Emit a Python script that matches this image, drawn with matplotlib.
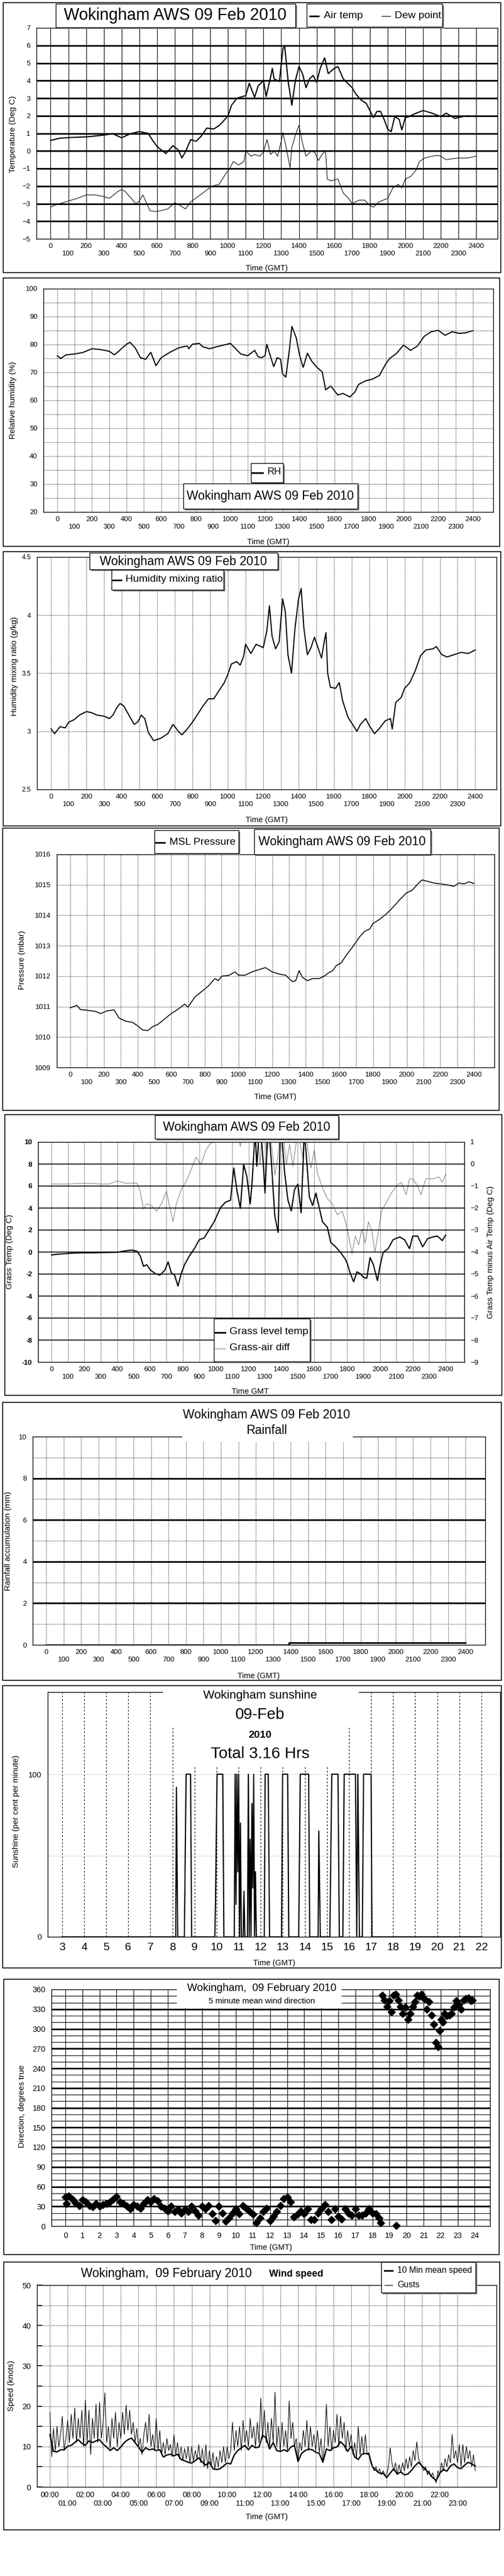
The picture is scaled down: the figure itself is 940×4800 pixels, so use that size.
import numpy as np
import matplotlib
matplotlib.use('Agg')
import matplotlib.pyplot as plt
from matplotlib.patches import Rectangle
from matplotlib.lines import Line2D

plt.rcParams['font.family'] = ['Liberation Sans', 'DejaVu Sans']

# ---- data (time, value) ----
air_temp = [(0,0.6),(50,0.72),(100,0.76),(150,0.78),(200,0.8),(250,0.85),(300,0.9),(350,0.98),(400,0.75),(450,0.98),
            (500,1.1),(550,1.0),(575,0.6),(600,0.25),(650,-0.15),(690,0.3),(720,0.05),(740,-0.4),(760,-0.05),(790,0.65),
            (820,0.55),(850,0.85),(880,1.3),(920,1.25),(950,1.45),(970,1.65),(1000,2.0),(1020,2.6),(1050,3.0),(1100,3.15),
            (1120,3.85),(1150,3.05),(1170,3.7),(1200,4.0),(1215,3.1),(1240,4.2),(1250,4.7),(1260,4.1),(1290,3.95),(1310,5.85),
            (1320,5.9),(1340,3.9),(1360,2.6),(1380,4.0),(1400,4.8),(1420,4.4),(1440,3.6),(1460,4.1),(1480,4.3),(1500,3.9),
            (1520,4.7),(1545,5.3),(1565,4.4),(1600,4.7),(1620,4.8),(1650,4.1),(1700,3.6),(1720,3.25),(1750,2.9),(1780,2.7),
            (1800,2.3),(1820,1.9),(1840,2.25),(1860,2.25),(1880,1.8),(1900,1.25),(1920,1.1),(1940,1.95),(1965,1.8),(1980,1.2),
            (2000,1.9),(2020,1.95),(2050,2.1),(2100,2.3),(2150,2.15),(2200,1.95),(2230,2.15),(2280,1.85),(2320,1.95),(2350,2.0),
            (2400,1.95)]
dew_point = [(0,-3.2),(20,-3.1),(50,-3.0),(100,-2.85),(150,-2.7),(200,-2.5),(250,-2.5),(300,-2.6),(330,-2.7),(350,-2.55),
             (380,-2.3),(400,-2.2),(420,-2.3),(450,-2.65),(480,-3.0),(500,-2.85),(520,-2.5),(540,-2.95),(560,-3.4),(590,-3.45),
             (620,-3.4),(660,-3.3),(700,-2.95),(730,-3.1),(760,-3.3),(790,-2.9),(830,-2.6),(870,-2.3),(910,-2.0),(950,-1.9),
             (990,-1.25),(1010,-1.0),(1030,-0.6),(1060,-0.8),(1090,-0.6),(1100,0.0),(1130,-0.3),(1150,-0.2),(1180,-0.3),(1200,-0.05),
             (1220,0.65),(1240,-0.2),(1260,0.0),(1280,-0.3),(1300,0.55),(1310,1.05),(1325,0.35),(1350,-0.95),(1360,0.2),(1380,0.9),
             (1400,1.45),(1420,0.45),(1440,-0.3),(1470,0.0),(1490,-0.1),(1510,-0.55),(1530,-0.2),(1550,0.0),(1560,-1.6),(1580,-1.7),
             (1620,-1.6),(1650,-2.4),(1680,-2.7),(1700,-3.0),(1740,-2.8),(1770,-2.8),(1800,-3.1),(1820,-3.2),(1850,-2.9),(1900,-2.7),
             (1930,-2.1),(1960,-1.9),(1980,-2.1),(2000,-1.6),(2030,-1.45),(2060,-1.1),(2080,-0.6),(2110,-0.4),(2150,-0.3),(2180,-0.25),
             (2200,-0.3),(2230,-0.5),(2260,-0.45),(2300,-0.4),(2350,-0.4),(2400,-0.3)]
rel_hum = [(0,76),(20,75),(50,76.3),(100,76.6),(150,77.2),(200,78.5),(250,78.2),(300,77.6),(330,76.3),(360,77.9),
           (400,80.1),(420,80.8),(450,78.8),(480,75.3),(510,74.7),(540,77.2),(570,72.4),(600,75.3),(650,77.2),(700,78.8),
           (750,79.5),(760,78.5),(780,80.1),(820,80.4),(840,79.2),(880,78.5),(920,79.2),(960,79.8),(1000,80.4),(1030,78.5),
           (1060,76.6),(1100,76.0),(1140,77.9),(1160,75.6),(1180,75.3),(1200,76.0),(1210,80.1),(1230,76.0),(1250,72.1),(1270,75.3),
           (1290,74.7),(1300,69.6),(1320,68.3),(1340,77.9),(1355,86.5),(1380,82.4),(1400,76.0),(1420,71.8),(1445,76.9),(1470,74.0),
           (1500,71.8),(1530,70.2),(1550,63.8),(1580,65.1),(1620,61.9),(1650,62.5),(1690,61.2),(1720,63.1),(1740,65.7),(1780,67.0),
           (1820,67.6),(1860,68.9),(1900,73.4),(1920,75.0),(1960,76.9),(2000,79.8),(2040,77.9),(2080,79.5),(2120,83.0),(2160,84.6),
           (2200,85.1),(2240,83.3),(2280,84.6),(2320,84.0),(2360,84.2),(2400,85.0)]
mix_ratio = [(0,3.02),(20,2.98),(50,3.04),(80,3.03),(100,3.08),(130,3.1),(160,3.14),(200,3.17),(230,3.16),(260,3.14),
             (300,3.13),(330,3.11),(350,3.14),(370,3.2),(390,3.24),(410,3.22),(440,3.14),(470,3.06),(490,3.08),(510,3.14),
             (530,3.11),(550,2.99),(580,2.92),(620,2.94),(660,2.98),(690,3.06),(720,3.0),(740,2.97),(770,3.02),(800,3.08),
             (830,3.15),(860,3.22),(890,3.28),(920,3.28),(950,3.35),(980,3.42),(1000,3.49),(1020,3.58),(1050,3.6),(1070,3.57),
             (1090,3.65),(1100,3.75),(1130,3.67),(1160,3.75),(1200,3.72),(1220,3.86),(1235,4.08),(1250,3.82),(1270,3.71),(1290,3.77),
             (1310,4.14),(1325,4.03),(1340,3.66),(1360,3.5),(1380,3.89),(1400,4.14),(1415,4.23),(1430,3.89),(1450,3.66),(1470,3.72),
             (1490,3.81),(1510,3.72),(1530,3.63),(1545,3.77),(1555,3.85),(1565,3.5),(1580,3.38),(1610,3.37),(1630,3.42),(1650,3.26),
             (1680,3.12),(1710,3.05),(1730,3.0),(1750,3.06),(1780,3.11),(1800,3.05),(1830,2.98),(1860,3.03),(1890,3.09),(1920,3.11),
             (1930,3.02),(1950,3.25),(1980,3.29),(2000,3.37),(2030,3.42),(2060,3.52),(2090,3.65),(2120,3.7),(2160,3.71),(2180,3.73),
             (2210,3.66),(2240,3.64),(2280,3.66),(2320,3.68),(2360,3.67),(2400,3.7)]
msl_pressure = [(0,1010.96),(20,1011.0),(40,1011.04),(60,1010.9),(100,1010.88),(150,1010.84),(180,1010.77),(220,1010.86),(260,1010.89),(290,1010.62),
                (330,1010.52),(370,1010.48),(400,1010.37),(430,1010.23),(460,1010.21),(490,1010.34),(520,1010.41),(560,1010.59),(600,1010.77),(640,1010.91),
                (680,1011.08),(700,1010.98),(740,1011.31),(780,1011.49),(820,1011.67),(860,1011.92),(880,1011.85),(900,1012.0),(940,1012.02),(980,1012.14),
                (1000,1012.03),(1040,1012.03),(1080,1012.14),(1120,1012.21),(1160,1012.28),(1200,1012.14),(1240,1012.07),(1280,1012.03),(1320,1011.82),(1340,1011.85),
                (1360,1012.18),(1380,1011.96),(1410,1011.85),(1440,1011.92),(1480,1011.92),(1510,1012.0),(1530,1012.09),(1560,1012.18),(1580,1012.34),(1610,1012.43),
                (1640,1012.68),(1680,1012.97),(1720,1013.29),(1750,1013.47),(1780,1013.55),(1800,1013.73),(1840,1013.87),(1880,1014.05),(1920,1014.27),(1960,1014.52),
                (2000,1014.74),(2030,1014.81),(2060,1014.99),(2090,1015.16),(2120,1015.12),(2160,1015.06),(2200,1015.03),(2240,1015.0),(2280,1014.95),(2310,1015.06),
                (2340,1015.03),(2370,1015.1),(2400,1015.04)]
grass_temp = [(0,-0.26),(50,-0.18),(100,-0.13),(150,-0.08),(200,-0.07),(250,-0.07),(300,-0.05),(350,-0.03),(400,-0.02),(450,0.11),
              (490,0.18),(520,0.07),(540,-0.34),(560,-1.3),(580,-1.15),(600,-1.6),(630,-1.95),(660,-2.1),(690,-1.65),(710,-0.9),
              (730,-1.9),(750,-2.1),(770,-3.1),(790,-1.95),(810,-1.15),(840,-0.34),(870,0.31),(900,1.12),(930,1.29),(960,2.02),
              (990,2.75),(1010,3.4),(1030,4.06),(1060,4.54),(1090,4.71),(1110,7.64),(1130,5.52),(1150,3.97),(1170,7.96),(1190,6.82),
              (1210,4.38),(1220,6.0),(1240,11.0),(1250,7.8),(1270,12.0),(1290,7.96),(1300,5.36),(1320,12.0),(1340,7.96),(1360,3.24),
              (1380,1.78),(1395,12.0),(1420,7.15),(1440,4.71),(1460,3.73),(1480,5.68),(1500,6.17),(1520,3.57),(1540,11.0),(1555,8.13),
              (1570,5.03),(1590,4.22),(1610,5.36),(1630,4.06),(1650,2.75),(1680,2.26),(1700,0.88),(1730,0.47),(1760,-0.02),(1790,-0.67),
              (1800,-1.0),(1820,-1.97),(1840,-2.7),(1860,-1.8),(1880,-1.97),(1900,-2.3),(1920,-2.38),(1940,-0.5),(1960,-1.15),(1985,-2.6),
              (2000,-1.3),(2020,-0.02),(2050,0.31),(2080,1.12),(2120,1.37),(2150,1.12),(2180,0.31),(2200,1.45),(2230,1.45),(2260,0.47),
              (2290,1.2),(2320,1.37),(2350,1.45),(2380,1.04),(2400,1.53)]
grass_air_diff = [(0,-0.91),(100,-0.91),(200,-0.87),(300,-0.91),(350,-0.91),(400,-0.77),(450,-0.87),(500,-0.87),(520,-0.87),(540,-1.24),
                  (560,-2.05),(580,-1.8),(610,-1.9),(640,-2.14),(670,-1.8),(700,-1.24),(720,-1.97),(740,-2.62),(760,-1.8),(790,-1.16),
                  (820,-0.79),(850,-0.26),(880,0.31),(910,-0.02),(940,0.63),(970,0.96),(1000,1.0),(1030,1.2),(1060,1.5),(1100,2.5),
                  (1150,0.8),(1170,2.0),(1200,1.5),(1240,3.0),(1270,-0.02),(1290,2.5),(1310,0.4),(1330,1.5),(1360,-0.5),(1380,0.4),
                  (1400,2.0),(1430,0.0),(1450,0.9),(1470,-0.1),(1500,1.5),(1530,0.3),(1545,2.5),(1560,0.71),(1580,-0.18),(1600,0.63),
                  (1620,-0.43),(1650,-1.08),(1680,-1.57),(1710,-1.8),(1740,-2.3),(1770,-2.14),(1790,-2.62),(1810,-3.27),(1830,-4.09),(1850,-3.27),
                  (1870,-3.68),(1890,-2.95),(1910,-3.6),(1930,-2.62),(1950,-3.03),(1970,-4.0),(1990,-3.11),(2010,-2.14),(2040,-1.73),(2070,-1.32),
                  (2100,-1.0),(2130,-0.83),(2160,-1.4),(2180,-0.67),(2200,-0.67),(2230,-1.0),(2250,-1.4),(2280,-0.67),(2320,-0.67),(2360,-0.59),
                  (2380,-0.83),(2400,-0.47)]
rain_time = [0, 1390, 2400]
rain_accum = [0.0, 0.1, 0.1]
sunshine = [(3,0),(8.15,0),(8.18,92),(8.24,0),(8.54,0),(8.62,100),(8.82,100),(8.87,0),(9.92,0),(9.95,20),
            (10.02,100),(10.28,100),(10.33,0),(10.8,0),(10.84,100),(10.88,20),(10.92,100),(10.96,40),(11.0,100),(11.04,0),
            (11.08,70),(11.12,0),(11.2,0),(11.24,28),(11.28,0),(11.4,0),(11.44,100),(11.48,0),(11.52,60),(11.56,0),
            (11.6,82),(11.64,30),(11.68,100),(11.72,0),(11.76,40),(11.8,0),(12.16,0),(12.2,100),(12.34,100),(12.4,0),
            (12.94,0),(12.99,100),(13.22,100),(13.27,0),(13.72,0),(13.79,100),(14.17,100),(14.22,0),(14.6,0),(14.63,65),
            (14.7,0),(15.13,0),(15.22,100),(15.5,100),(15.56,0),(15.72,0),(15.78,100),(16.29,100),(16.35,0),(16.4,100),
            (16.47,0),(16.6,0),(16.66,100),(17.0,100),(17.04,0),(22,0)]
wind_dir = [(0.0,44),(0.05,34),(0.2,46),(0.4,41),(0.6,35),(0.8,31),(1.0,40),(1.2,37),(1.4,31),(1.6,29),
            (1.8,34),(2.0,30),(2.2,33),(2.4,34),(2.6,37),(2.8,41),(3.0,45),(3.2,37),(3.4,34),(3.6,30),
            (3.8,26),(4.0,33),(4.2,30),(4.4,27),(4.6,34),(4.8,40),(5.0,37),(5.2,42),(5.4,38),(5.6,30),
            (5.8,27),(6.0,23),(6.2,30),(6.4,22),(6.6,25),(6.8,20),(7.0,25),(7.2,22),(7.4,30),(7.6,23),
            (7.8,16),(8.0,30),(8.2,26),(8.4,31),(8.6,19),(8.8,8),(9.0,30),(9.2,20),(9.4,7),(9.6,12),
            (9.8,20),(10.0,26),(10.2,19),(10.4,31),(10.6,27),(10.8,22),(11.0,18),(11.2,5),(11.4,12),(11.6,22),
            (11.8,27),(12.0,8),(12.2,15),(12.4,22),(12.6,31),(12.8,42),(13.0,44),(13.2,37),(13.4,14),(13.6,18),
            (13.8,23),(14.0,19),(14.2,26),(14.4,10),(14.6,10),(14.8,20),(15.0,26),(15.2,33),(15.4,22),(15.6,10),
            (15.8,26),(16.0,15),(16.2,11),(16.4,26),(16.6,20),(16.8,16),(17.0,26),(17.2,16),(17.4,16),(17.6,20),
            (17.8,26),(18.0,20),(18.2,19),(18.4,12),(18.5,5),(19.4,1),
            (18.58,351),(18.71,344),(18.86,334),(19.0,343),(19.13,326),(19.24,351),(19.37,353),(19.51,344),(19.66,334),(19.79,323),
            (19.94,333),(20.08,314),(20.23,323),(20.38,334),(20.51,341),(20.61,351),(20.76,349),(20.89,353),(21.02,346),(21.18,330),
            (21.33,341),(21.46,321),(21.59,307),(21.74,279),(21.84,273),(21.93,297),(22.03,314),(22.12,310),(22.22,323),(22.35,320),
            (22.5,321),(22.65,323),(22.79,333),(22.92,343),(23.07,337),(23.2,330),(23.36,344),(23.49,346),(23.64,347),(23.77,343),
            (23.87,344)]
# wind speed sampled every 0.2 h (mean) and 0.1 h (gusts) from 00:00
mean_step, gust_step = 0.2, 0.1
mean_speed = [13,8.8,8.7,9.2,9.2,10.1,10.3,11,11.7,10.8,10.3,11.4,11,11.4,11.7,10.6,9.9,9,9.7,9,
              9.9,11,11.7,12.1,11,9.9,8.6,9.7,9.2,9.4,9,9.2,7.4,7.9,8.1,7.7,8.1,6.8,6.5,6.1,
              5.9,6.5,7.2,6.1,5.4,6.1,4.5,4.3,4.5,5.2,5.9,5.7,7.9,9,9.7,10.3,9.2,10.3,9.7,9.9,
              12.8,12.1,9.4,11,9,8.8,9.2,8.8,9.9,10.3,6.3,8.3,9,9.4,9.2,8.6,8.3,6.1,9.4,9,
              9.7,9.9,11.2,10.3,8.8,10.1,7.4,6.8,8.1,8.3,8.1,5,4.1,3.4,3.4,2.3,3.4,4.5,3.2,3.7,
              3.0,3.2,4.1,5.2,6.1,5.2,4.3,3.4,2.3,1.6,3.4,4.3,3.9,5.2,5.7,4.8,4.5,5.4,6.1,5.7,
              5.2]
gusts = [18.5,7.5,14.5,9,15,10,13,17.5,9,12, 16.5,11,18,12,19.5,11,17,12,19,10,
         21.5,11,19,8,17,12,20.5,11,21,12, 16,23.3,11,15,9.5,17,12,18.5,10,16,
         12,18.5,13,20.3,14,19,13,16,11,14.5, 10,12,8,13,16,11,18,10,13,9,
         17,9,14,8,11,8,12,9,10.5,7.5, 13,8,11,7,10,6.5,9.5,7,10,6,
         10,6.5,9,7,10.5,6,9.5,5,10.5,4.5, 9,5,8.5,4.5,7.5,5,9,6,10,6,
         10,7,9,16,9,14,10,15,9,16.5, 11,14,10,17,12,15,10,16,11,22,
         12,19,11,16,10,17,11,23.5,10,15, 9,16,10,14,9,21.3,12,16,10,12,
         6.5,11,9,14,10,16.5,9,15,10,13, 9,14,8.5,12,6,11,20.5,10,15,9,
         14,11,18,10,17.5,12,16,9,14,10, 13,8,11,7,15,8,12.5,8,13,8,
         8.5,6,5,4,5,3.5,4.5,3,4,3, 3,5,9.7,6,4,6,3,5.5,3.5,6,
         4,7,4.5,7.5,5,9,6.5,11.2,7,6, 5,4,5,3,4,2.5,3.5,2,1,4,
         3,6,4,7,5,8,6,13,7,9, 6,10.5,5,10.5,6,10,7,9,5,8,
         4]

TITLE = 'Wokingham AWS 09 Feb 2010'

W, H = 940, 4800
fig = plt.figure(figsize=(W / 100, H / 100), dpi=100)


def split(pairs):
    a = np.array(pairs, dtype=float)
    return a[:, 0], a[:, 1]


def fx(x):
    return x / W


def fy(y):
    return 1 - y / H


def add_ax(x0, y0, x1, y1):
    ax = fig.add_axes([fx(x0), fy(y1), (x1 - x0) / W, (y1 - y0) / H])
    for s in ax.spines.values():
        s.set_linewidth(1.0)
    ax.tick_params(which='both', length=0, labelsize=9.5, pad=8)
    return ax


def frame(x0, y0, x1, y1):
    fig.add_artist(Rectangle((fx(x0), fy(y1)), (x1 - x0) / W, (y1 - y0) / H,
                             transform=fig.transFigure, fill=False, ec='black', lw=1.2, zorder=1))


def box(x0, y0, x1, y1):
    fig.add_artist(Rectangle((fx(x0 + 3), fy(y1 + 3)), (x1 - x0) / W, (y1 - y0) / H,
                             transform=fig.transFigure, fc='#808080', ec='none', zorder=5))
    fig.add_artist(Rectangle((fx(x0), fy(y1)), (x1 - x0) / W, (y1 - y0) / H,
                             transform=fig.transFigure, fc='white', ec='black', lw=1, zorder=6))


def blank(x0, y0, x1, y1):
    fig.add_artist(Rectangle((fx(x0), fy(y1)), (x1 - x0) / W, (y1 - y0) / H,
                             transform=fig.transFigure, fc='white', ec='none', zorder=5))


def txt(x, y, s, size, ha='center', rot=0, **kw):
    fig.text(fx(x), fy(y), s, fontsize=size, ha=ha, va='center', rotation=rot, zorder=8, **kw)


def key(x0, x1, y, lw, color='black'):
    fig.add_artist(Line2D([fx(x0), fx(x1)], [fy(y), fy(y)], transform=fig.transFigure,
                          color=color, lw=lw, zorder=7))


def hhmm_axis(ax, ls, lw):
    ticks = list(range(0, 2401, 100))
    labels = [str(t) if (t // 100) % 2 == 0 else '\n' + str(t) for t in ticks]
    ax.set_xticks(ticks)
    ax.set_xticklabels(labels, fontsize=9.5, linespacing=1.15)
    ax.tick_params(axis='x', pad=6)
    ax.grid(axis='x', color='black', ls=ls, lw=lw)


def hide_edge_grid(ax):
    gl = ax.yaxis.get_gridlines()
    gl[0].set_visible(False)
    gl[-1].set_visible(False)


# ---- 1: air temp / dew point ----
ax1 = add_ax(68, 52, 928, 445)
t, v = split(air_temp)
ax1.plot(t, v, color='black', lw=1.6)
t, v = split(dew_point)
ax1.plot(t, v, color='black', lw=0.8)
ax1.set_xlim(-80, 2520)
ax1.set_ylim(-5, 7)
ax1.set_yticks(range(-5, 8))
hhmm_axis(ax1, '-', 0.8)
ax1.grid(axis='y', color='black', lw=2.2)
hide_edge_grid(ax1)
frame(6, 5, 934, 508)
box(104, 7, 551, 51)
txt(327, 29, TITLE, 22)
box(572, 7, 825, 50)
key(578, 594, 30, 2.2)
txt(604, 29, 'Air temp', 14, ha='left')
key(712, 728, 30, 0.8)
txt(736, 29, 'Dew point', 14, ha='left')
txt(24, 250, 'Temperature (Deg C)', 11, rot=90)
txt(497, 500, 'Time (GMT)', 10.5)

# ---- 2: relative humidity ----
ax2 = add_ax(81, 538, 920, 954)
t, v = split(rel_hum)
ax2.plot(t, v, color='black', lw=1.5)
ax2.set_xlim(-80, 2518)
ax2.set_ylim(20, 100)
ax2.set_yticks(range(20, 101, 10))
ax2.set_yticks(range(25, 100, 10), minor=True)
hhmm_axis(ax2, ':', 0.8)
ax2.grid(axis='y', which='both', color='black', ls=':', lw=0.8)
frame(6, 518, 932, 1018)
box(468, 863, 528, 899)
key(470, 490, 881, 2.2)
txt(498, 880, 'RH', 13, ha='left')
box(342, 901, 667, 948)
txt(504, 925, TITLE, 16.5)
txt(24, 746, 'Relative humidity (%)', 11, rot=90)
txt(500, 1010, 'Time (GMT)', 10.5)

# ---- 3: mixing ratio ----
ax3 = add_ax(69, 1038, 926, 1471)
t, v = split(mix_ratio)
ax3.plot(t, v, color='black', lw=1.5)
ax3.set_xlim(-80, 2520)
ax3.set_ylim(2.5, 4.5)
ax3.set_yticks([2.5, 3, 3.5, 4, 4.5])
ax3.set_yticklabels(['2.5', '3', '3.5', '4', '4.5'], fontsize=9)
hhmm_axis(ax3, ':', 0.8)
ax3.grid(axis='y', color='black', ls=':', lw=0.8)
frame(6, 1028, 934, 1539)
box(167, 1030, 518, 1061)
txt(342, 1046, TITLE, 16.5)
box(208, 1062, 417, 1099)
key(210, 226, 1081, 2.2)
txt(234, 1080, 'Humidity mixing ratio', 14, ha='left')
txt(27, 1242, 'Humidity mixing ratio (g/kg)', 11, rot=90)
txt(497, 1528, 'Time (GMT)', 10.5)

# ---- 4: pressure ----
ax4 = add_ax(106, 1592, 922, 1989)
t, v = split(msl_pressure)
ax4.plot(t, v, color='black', lw=1.2)
ax4.set_xlim(-80, 2521)
ax4.set_ylim(1009, 1016)
ax4.set_yticks(range(1009, 1017))
hhmm_axis(ax4, ':', 0.8)
ax4.grid(axis='y', color='black', ls=':', lw=0.8)
frame(5, 1543, 931, 2069)
box(288, 1547, 445, 1590)
key(290, 307, 1570, 2.2)
txt(316, 1569, 'MSL Pressure', 14, ha='left')
box(474, 1545, 803, 1592)
txt(638, 1568, TITLE, 16.5)
txt(41, 1789, 'Pressure (mbar)', 11, rot=90)
txt(513, 2044, 'Time (GMT)', 10.5)

# ---- 5: grass temperature ----
ax5 = add_ax(71, 2128, 866, 2538)
ax5b = ax5.twinx()
t, v = split(grass_air_diff)
ax5b.plot(t, v, color='#8c8c8c', lw=0.9)
t, v = split(grass_temp)
ax5.plot(t, v, color='black', lw=1.6)
ax5.set_zorder(ax5b.get_zorder() + 1)
ax5.patch.set_visible(False)
ax5.set_xlim(-82, 2514)
ax5.set_ylim(-10, 10)
ax5.set_yticks(range(-10, 11, 2))
ax5.set_yticklabels([str(k) for k in range(-10, 11, 2)], fontweight='bold', fontsize=9.5)
ax5b.set_ylim(-9, 1)
ax5b.set_yticks(range(-9, 2))
ax5b.tick_params(length=0, labelsize=9.5, pad=8)
hhmm_axis(ax5, ':', 0.8)
ax5.grid(axis='y', color='black', lw=1.2)
hide_edge_grid(ax5)
frame(9, 2077, 936, 2600)
box(289, 2078, 631, 2122)
txt(460, 2100, TITLE, 16.5)
box(399, 2457, 578, 2537)
key(401, 420, 2483, 2.2)
txt(428, 2482, 'Grass level temp', 14, ha='left')
key(401, 420, 2513, 0.9, color='#8c8c8c')
txt(428, 2512, 'Grass-air diff', 14, ha='left')
txt(18, 2332, 'Grass Temp (Deg C)', 11, rot=90)
txt(915, 2333, 'Grass Temp minus Air Temp (Deg C)', 11, rot=90)
txt(467, 2593, 'Time GMT', 10.5)

# ---- 6: rainfall ----
ax6 = add_ax(61, 2677, 905, 3065)
ax6.step(rain_time, rain_accum, where='post', color='black', lw=2.2)
ax6.set_xlim(-77, 2513)
ax6.set_ylim(0, 10)
ax6.set_yticks(range(0, 11, 2))
ax6.set_yticks(range(1, 10, 2), minor=True)
hhmm_axis(ax6, ':', 0.8)
ax6.grid(axis='y', which='major', color='black', lw=2.2)
ax6.grid(axis='y', which='minor', color='black', ls=':', lw=0.8)
hide_edge_grid(ax6)
frame(5, 2613, 935, 3131)
blank(340, 2670, 658, 2686)
txt(497, 2636, TITLE, 16.5)
txt(497, 2666, 'Rainfall', 16.5)
txt(15, 2871, 'Rainfall accumulation (mm)', 11, rot=90)
txt(482, 3123, 'Time (GMT)', 10.5)

# ---- 7: sunshine ----
ax7 = add_ax(89, 3153, 933, 3609)
t, v = split(sunshine)
ax7.plot(t, v, color='black', lw=1.6)
ax7.set_xlim(2.35, 22.85)
ax7.set_ylim(0, 150.5)
ax7.set_xticks(range(3, 23))
ax7.set_xticklabels([str(h) for h in range(3, 23)], fontsize=15)
ax7.tick_params(axis='x', pad=7)
ax7.set_yticks([0, 50, 100])
ax7.set_yticklabels(['0', '', '100'], fontsize=10.5)
ax7.grid(axis='x', color='black', ls=(0, (3, 3)), lw=0.8)
ax7.grid(axis='y', color='#a0a0a0', ls=':', lw=0.8)
ax7.yaxis.get_gridlines()[0].set_visible(False)
frame(5, 3141, 935, 3667)
blank(304, 3150, 669, 3218)
blank(326, 3218, 646, 3292)
txt(485, 3159, 'Wokingham sunshine', 16)
txt(485, 3195, '09-Feb', 21)
txt(485, 3234, '2010', 14, fontweight='bold')
txt(485, 3268, 'Total 3.16 Hrs', 21.5)
txt(30, 3375, 'Sunshine (per cent per minute)', 11, rot=90)
txt(511, 3658, 'Time (GMT)', 10.5)

# ---- 8: wind direction ----
ax8 = add_ax(96, 3707, 914, 4148)
t, v = split(wind_dir)
ax8.plot(t, v, ls='none', marker='D', ms=7, color='black', clip_on=False)
ax8.set_xlim(-0.82, 24.9)
ax8.set_ylim(0, 360)
ax8.set_xticks(range(0, 25))
ax8.set_yticks(range(0, 361, 30))
ax8.set_yticks(range(0, 361, 10), minor=True)
ax8.tick_params(labelsize=10.5)
ax8.grid(axis='x', color='black', lw=0.8)
ax8.grid(axis='y', which='minor', color='black', lw=0.8)
ax8.grid(axis='y', which='major', color='black', lw=2.2)
hide_edge_grid(ax8)
frame(7, 3688, 931, 4201)
blank(330, 3694, 637, 3742)
txt(488, 3705, 'Wokingham,  09 February 2010', 14.3)
txt(488, 3729, '5 minute mean wind direction', 11)
txt(41, 3925, 'Direction, degrees true', 11, rot=90)
txt(505, 4188, 'Time (GMT)', 10.5)

# ---- 9: wind speed ----
ax9 = add_ax(69, 4258, 926, 4634)
ax9.plot(np.arange(len(gusts)) * gust_step, gusts, color='black', lw=0.8)
ax9.plot(np.arange(len(mean_speed)) * mean_step, mean_speed, color='black', lw=1.8)
ax9.set_xlim(-0.73, 25.2)
ax9.set_ylim(0, 50)
ax9.set_xticks(range(0, 24))
ax9.set_xticklabels(['%02d:00' % h if h % 2 == 0 else '\n%02d:00' % h for h in range(24)],
                    fontsize=10, linespacing=1.15)
ax9.tick_params(axis='x', pad=6)
ax9.set_yticks(range(0, 51, 10))
ax9.set_yticks(range(5, 50, 10), minor=True)
ax9.tick_params(axis='y', which='both', direction='in', length=7, width=1.2, labelsize=10.5)
ax9.grid(axis='x', color='black', ls=':', lw=0.8)
ax9.grid(axis='y', which='both', color='black', ls=':', lw=0.8)
frame(7, 4215, 932, 4714)
txt(310, 4237, 'Wokingham,  09 February 2010', 16.4)
txt(552, 4237, 'Wind speed', 13, fontweight='bold')
box(711, 4215, 887, 4272)
key(717, 732, 4231, 2.2)
txt(741, 4230, '10 Min mean speed', 11.4, ha='left')
key(717, 732, 4258, 0.8)
txt(741, 4257, 'Gusts', 11.4, ha='left')
txt(21, 4446, 'Speed (knots)', 11, rot=90)
txt(497, 4690, 'Time (GMT)', 10.5)

fig.savefig('out.png', dpi=100, facecolor='white')
